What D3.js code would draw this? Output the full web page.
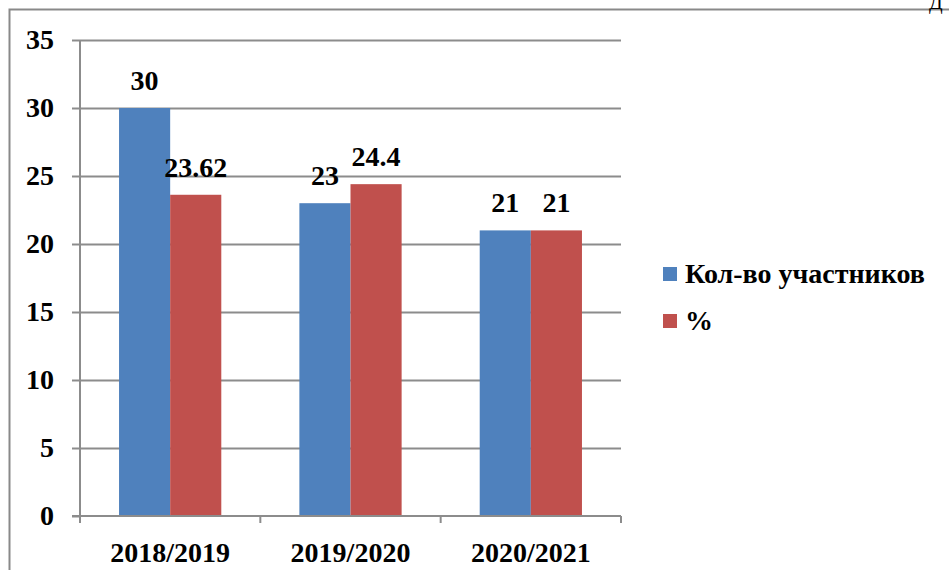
<!DOCTYPE html>
<html>
<head>
<meta charset="utf-8">
<script src="https://cdn.jsdelivr.net/npm/d3@7"></script>
</head>
<body style="margin:0">
<div id="chart"></div>
<script>
// Data
var years = ["2018/2019", "2019/2020", "2020/2021"];
var participants = [30, 23, 21];
var percents = [23.62, 24.4, 21];
var seriesNames = ["Кол-во участников", "%"];
var seriesColors = ["#4f81bd", "#c0504d"];
var yTicks = [0, 5, 10, 15, 20, 25, 30, 35];

var fontName = "Liberation Serif";

var svgWidth = 949;
var svgHeight = 570;

var margin = { top: 40, left: 80 };
var width = 541;
var height = 476;

var svg = d3.select("#chart")
  .append("svg")
  .attr("width", svgWidth)
  .attr("height", svgHeight)
  .style("display", "block");

// Outer frame (left + top edges visible)
svg.append("path")
  .attr("d", `M9.5,${svgHeight} V9.5 H${svgWidth}`)
  .attr("fill", "none")
  .attr("stroke", "#898989")
  .attr("stroke-width", 2);

// bit of a letter peeking in at the top right corner
svg.append("text")
  .text("Д")
  .attr("x", 929)
  .attr("y", 9)
  .attr("font-family", fontName)
  .attr("font-size", 20);

var chartGroup = svg.append("g")
  .attr("transform", `translate(${margin.left}, ${margin.top})`);

var yScale = d3.scaleLinear()
  .domain([0, 35])
  .range([height, 0]);

var xScale = d3.scaleBand()
  .domain(years)
  .range([0, width])
  .paddingInner(0.433)
  .paddingOuter(0.2165);

var series = [participants, percents];
var barWidth = xScale.bandwidth() / 2;

// gridlines
chartGroup.append("g")
  .selectAll("line")
  .data(yTicks.slice(1))
  .enter()
  .append("line")
  .attr("x1", 0)
  .attr("x2", width)
  .attr("y1", d => Math.round(yScale(d)) + 0.5)
  .attr("y2", d => Math.round(yScale(d)) + 0.5);

// bars + value labels
series.forEach(function(values, s) {
  chartGroup.append("g")
    .selectAll("rect")
    .data(values)
    .enter()
    .append("rect")
    .attr("x", (d, i) => xScale(years[i]) + s * barWidth)
    .attr("y", d => yScale(d))
    .attr("width", barWidth)
    .attr("height", d => height - yScale(d))
    .attr("fill", seriesColors[s]);

  chartGroup.append("g")
    .selectAll("text")
    .data(values)
    .enter()
    .append("text")
    .text(d => d)
    .attr("x", (d, i) => xScale(years[i]) + s * barWidth + barWidth / 2)
    .attr("y", d => yScale(d) - 18)
    .attr("text-anchor", "middle")
    .attr("font-family", fontName)
    .attr("font-weight", "bold")
    .attr("font-size", 28);
});

// y axis
var yAxis = d3.axisLeft(yScale)
  .tickValues(yTicks)
  .tickSize(8)
  .tickPadding(18);

var yAxisG = chartGroup.append("g").call(yAxis);
yAxisG.select(".domain").attr("d", `M0,0 V${height + 7}`);

// x axis with ticks at band edges
var xAxisG = chartGroup.append("g")
  .attr("transform", `translate(0, ${height})`)
  .call(d3.axisBottom(xScale).tickSize(0).tickPadding(26));
xAxisG.select(".domain").attr("d", `M-8,0 H${width}`);

var edges = [0].concat(years.map(y => xScale(y) + xScale.bandwidth() + xScale.step() * xScale.paddingInner() / 2));
xAxisG.append("g")
  .selectAll("line")
  .data(edges)
  .enter()
  .append("line")
  .attr("x1", d => d)
  .attr("x2", d => d)
  .attr("y1", 0)
  .attr("y2", 7);

chartGroup.selectAll(".domain, line")
  .attr("stroke", "#8c8c8c")
  .attr("stroke-width", 2);

chartGroup.selectAll(".tick text")
  .attr("fill", "#000")
  .attr("font-family", fontName)
  .attr("font-weight", "bold")
  .attr("font-size", 28);

// legend
var legend = svg.append("g")
  .attr("transform", "translate(663, 267)");

seriesNames.forEach(function(name, i) {
  legend.append("rect")
    .attr("x", 0)
    .attr("y", i * 47)
    .attr("width", 14)
    .attr("height", 14)
    .attr("fill", seriesColors[i]);
  legend.append("text")
    .text(name)
    .attr("x", 22)
    .attr("y", i * 47 + 16)
    .attr("font-family", fontName)
    .attr("font-weight", "bold")
    .attr("font-size", 28);
});
</script>
</body>
</html>
